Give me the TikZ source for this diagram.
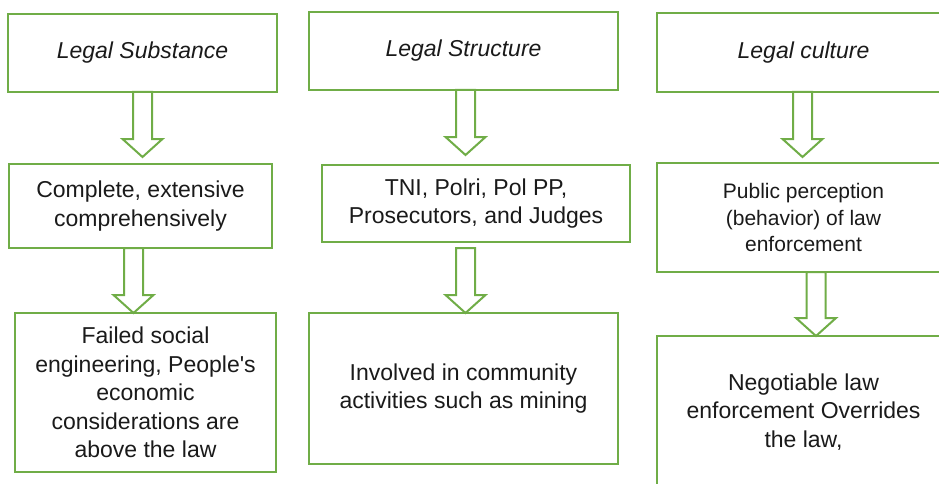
\documentclass[tikz,border=0pt]{standalone}
\usepackage{fontspec}
\setmainfont{Liberation Sans}[Ligatures=TeXOff]
\usetikzlibrary{calc}
\definecolor{boxgreen}{HTML}{70AD47}
\definecolor{txt}{HTML}{1A1A1A}
\tikzset{
  box/.style={draw=boxgreen, line width=2pt, rectangle, inner sep=0pt, outer sep=0pt,
    align=center, text=txt, font=\fontsize{23}{28.5}\selectfont},
  titlebox/.style={box, font=\fontsize{23}{28.5}\selectfont\itshape},
  smallbox/.style={box, font=\fontsize{21}{26.5}\selectfont},
  blockarr/.style={draw=boxgreen, line width=2pt, fill=white, line join=miter}
}
% #1 source node, #2 target node, #3 x centre, #4 gap below source, #5 gap above target
\newcommand\blockarrow[5]{%
  \draw[blockarr] let \p1=(#1.south), \p2=(#2.north) in
    (#3pt-9.5pt,\y1-#4pt) -- (#3pt-9.5pt,\y2+#5pt+18pt) -- (#3pt-20pt,\y2+#5pt+18pt)
    -- (#3pt,\y2+#5pt) -- (#3pt+20pt,\y2+#5pt+18pt) -- (#3pt+9.5pt,\y2+#5pt+18pt)
    -- (#3pt+9.5pt,\y1-#4pt) -- cycle;}
\begin{document}
\begin{tikzpicture}[x=1pt, y=-1pt]
\useasboundingbox (0,0) rectangle (939,484);
% column 1
\node[titlebox, minimum width=269pt, minimum height=78pt] (a1) at (142.5,53) {Legal Substance};
\node[box, minimum width=263pt, minimum height=84pt] (b1) at (140.5,206) {Complete, extensive\\comprehensively};
\node[box, minimum width=261pt, minimum height=159pt] (c1) at (145.5,392.5) {Failed social\\engineering, People's\\economic\\considerations are\\above the law};
% column 2
\node[titlebox, minimum width=309pt, minimum height=78pt] (a2) at (463.5,51) {Legal Structure};
\node[box, minimum width=308pt, minimum height=77pt] (b2) at (476,203.5) {TNI, Polri, Pol PP,\\Prosecutors, and Judges};
\node[box, minimum width=309pt, minimum height=151pt] (c2) at (463.5,388.5) {Involved in community\\activities such as mining};
% column 3
\node[titlebox, minimum width=293pt, minimum height=79pt] (a3) at (803.5,52.5) {Legal culture};
\node[smallbox, minimum width=293pt, minimum height=109pt] (b3) at (803.5,217.5) {Public perception\\(behavior) of law\\enforcement};
\node[box, minimum width=293pt, minimum height=152pt] (c3) at (803.5,412) {Negotiable law\\enforcement Overrides\\the law,};
% block arrows
\blockarrow{a1}{b1}{142.5}{0}{7}
\blockarrow{b1}{c1}{133.5}{0}{0}
\blockarrow{a2}{b2}{465.5}{0}{10}
\blockarrow{b2}{c2}{465.5}{6}{0}
\blockarrow{a3}{b3}{802.5}{0}{6}
\blockarrow{b3}{c3}{816}{0}{0}
\end{tikzpicture}
\end{document}
